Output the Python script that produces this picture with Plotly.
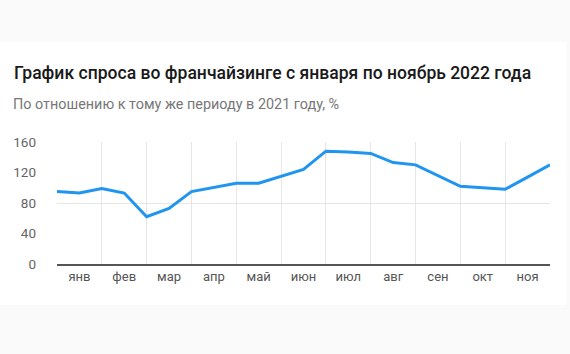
import plotly.graph_objects as go

# Half-month positions (0 = start of January, 11 = end of November)
positions = [0, 0.5, 1, 1.5, 2, 2.5, 3, 3.5, 4, 4.5, 5, 5.5, 6, 6.5, 7, 7.5, 8, 8.5, 9, 9.5, 10, 10.5, 11]
values = [95, 93, 99, 93, 62, 73, 95, 101, 106, 106, 115, 124, 148, 147, 145, 133, 130, 116, 102, 100, 98, 114, 130]

months = ["янв", "фев", "мар", "апр", "май", "июн", "июл", "авг", "сен", "окт", "ноя"]
month_centers = [i + 0.5 for i in range(len(months))]

y_ticks = [0, 40, 80, 120, 160]
y_text = ["\u2007\u20070", "\u200740", "\u200780", "120", "160"]

title = "График спроса во франчайзинге с января по ноябрь 2022 года"
subtitle = "По отношению к тому же периоду в 2021 году, %"

W, H = 570, 354
L, R, T, B = 57, 20, 142, 90
pw, ph = W - L - R, H - T - B

def px_x(p):
    return (p - L) / pw

def px_y(p):
    return (H - B - p) / ph

fig = go.Figure()
fig.add_trace(go.Scatter(
    x=positions, y=values, mode="lines",
    line=dict(color="#1f95f0", width=3),
    hoverinfo="skip", showlegend=False,
))

fig.update_layout(
    width=W, height=H,
    margin=dict(l=L, r=R, t=T, b=B, pad=0),
    paper_bgcolor="#fafafa",
    plot_bgcolor="white",
    font=dict(family="Roboto, Inter, sans-serif"),
    shapes=[dict(type="rect", xref="paper", yref="paper",
                 x0=px_x(0), x1=px_x(566), y0=px_y(305), y1=px_y(42),
                 fillcolor="white", line=dict(width=0), layer="below")],
    title=dict(text=title, x=14 / W, xanchor="left", xref="container",
               y=1 - 73 / H, yanchor="middle", yref="container",
               font=dict(size=17.5, color="#1a1a1a", family="Roboto Medium, Roboto, sans-serif", weight=500)),
    annotations=[dict(text=subtitle, xref="paper", yref="paper",
                      x=px_x(11), y=px_y(104), xanchor="left", yanchor="middle",
                      showarrow=False, font=dict(size=14.4, color="#777777"))],
    xaxis=dict(
        range=[0, 11], tickvals=month_centers, ticktext=months,
        showgrid=False, zeroline=False, ticks="",
        showline=True, linecolor="#555555", linewidth=1.5,
        tickfont=dict(size=13, color="#555555"),
        minor=dict(tick0=0, dtick=1, showgrid=True, gridcolor="#e6e6e6", gridwidth=1, ticks=""),
        fixedrange=True,
    ),
    yaxis=dict(
        range=[0, 160], tickvals=y_ticks, ticktext=y_text,
        showgrid=False, zeroline=False, ticks="",
        tickfont=dict(size=13.5, color="#666666"),
        ticklabelstandoff=20,
        minor=dict(tickvals=[80, 160], showgrid=True, gridcolor="#e6e6e6", gridwidth=1, ticks=""),
        fixedrange=True,
    ),
)

fig.write_html("out.html")
